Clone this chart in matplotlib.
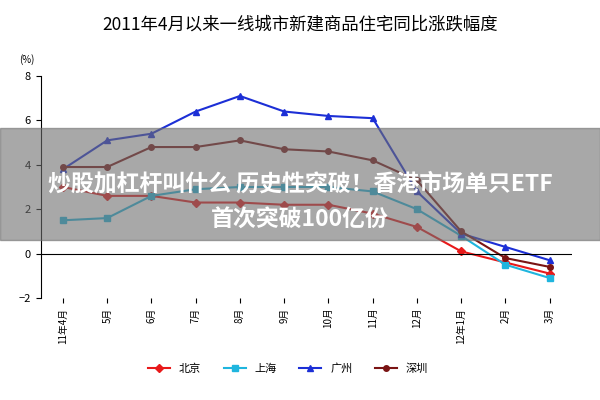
import matplotlib
matplotlib.use("Agg")
import matplotlib.pyplot as plt
from matplotlib.patches import Rectangle

plt.rcParams['font.family'] = ['Noto Sans CJK SC', 'DejaVu Sans']

months = ["11年4月", "5月", "6月", "7月", "8月", "9月", "10月", "11月", "12月", "12年1月", "2月", "3月"]
beijing = [3.0, 2.6, 2.6, 2.3, 2.3, 2.2, 2.2, 1.8, 1.2, 0.1, -0.4, -0.9]
shanghai = [1.5, 1.6, 2.6, 2.9, 3.0, 3.0, 3.0, 2.8, 2.0, 0.8, -0.5, -1.1]
guangzhou = [3.8, 5.1, 5.4, 6.4, 7.1, 6.4, 6.2, 6.1, 2.8, 0.9, 0.3, -0.3]
shenzhen = [3.9, 3.9, 4.8, 4.8, 5.1, 4.7, 4.6, 4.2, 3.3, 1.0, -0.2, -0.6]

fig = plt.figure(figsize=(6, 4), dpi=100)
ax = fig.add_axes([0.068, 0.255, 0.885, 0.555])
x = list(range(len(months)))
ax.plot(x, beijing, color='#e8191a', marker='D', ms=4, lw=1.5, label='北京')
ax.plot(x, shanghai, color='#1fb5de', marker='s', ms=4, lw=1.5, label='上海')
ax.plot(x, guangzhou, color='#1c2fd6', marker='^', ms=5, lw=1.5, label='广州')
ax.plot(x, shenzhen, color='#7a1414', marker='o', ms=4, lw=1.5, label='深圳')
ax.set_xlim(-0.5, len(months) - 0.5)
ax.set_ylim(-2, 8)
ax.set_yticks([-2, 0, 2, 4, 6, 8])
ax.set_xticks(x)
ax.set_xticklabels(months, rotation=90, fontsize=7)
ax.tick_params(axis='y', labelsize=8)
for s in ['top', 'right']:
    ax.spines[s].set_visible(False)
ax.axhline(0, color='black', lw=0.8)
ax.spines['bottom'].set_visible(False)
ax.text(-0.04, 1.06, '(%)', transform=ax.transAxes, fontsize=7)
fig.text(0.5, 0.925, '2011年4月以来一线城市新建商品住宅同比涨跌幅度', ha='center', fontsize=12.5)
fig.legend(loc='lower center', ncol=4, frameon=False, fontsize=8, bbox_to_anchor=(0.48, 0.04))

fig.patches.append(Rectangle((0, 0.4), 1, 0.28, transform=fig.transFigure,
                             color='#6e6e6e', alpha=0.6, zorder=5))
fig.text(0.5, 0.54, '炒股加杠杆叫什么 历史性突破！香港市场单只ETF', ha='center', va='center',
         color='white', fontsize=16.5, fontweight='bold', zorder=6)
fig.text(0.5, 0.45, '首次突破100亿份', ha='center', va='center',
         color='white', fontsize=16.5, fontweight='bold', zorder=6)

fig.savefig('out.png')
